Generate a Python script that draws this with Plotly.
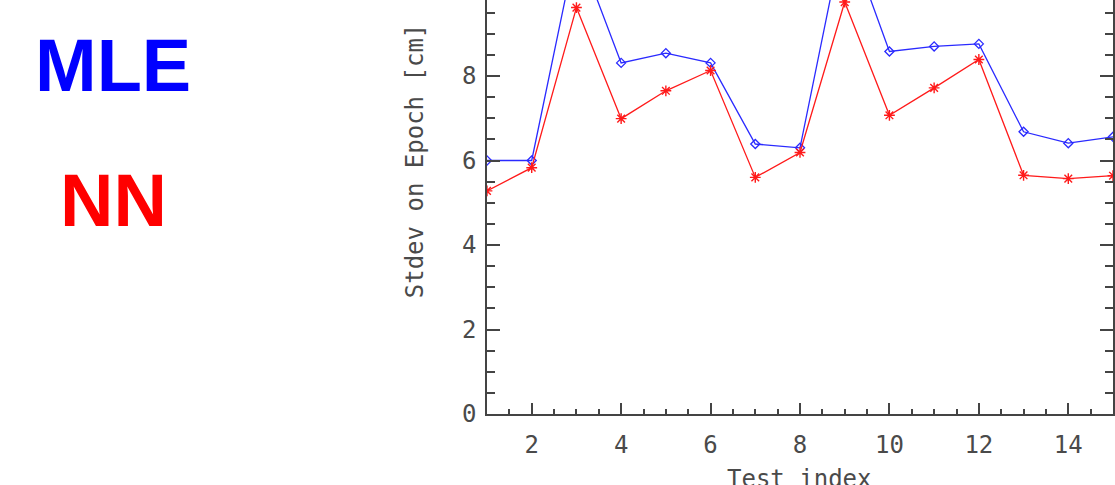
import plotly.graph_objects as go

test_index = [1, 2, 3, 4, 5, 6, 7, 8, 9, 10, 11, 12, 13, 14, 15]
mle_stdev = [6.0, 6.0, 11.1, 8.31, 8.54, 8.31, 6.39, 6.3, 11.5, 8.58, 8.70, 8.76, 6.68, 6.41, 6.56]
nn_stdev = [5.28, 5.83, 9.62, 6.99, 7.65, 8.13, 5.60, 6.19, 9.75, 7.07, 7.72, 8.39, 5.65, 5.57, 5.64]

x_ticks = [2, 4, 6, 8, 10, 12, 14]
y_ticks = [0, 2, 4, 6, 8, 10, 12]

# layout geometry (screen pixels)
SHIFT = 95          # figure is shifted up so the top of the y axis is above the window
PLOT_L, PLOT_W = 487, 628
PLOT_H = 509
BOTTOM = 71
AXIS_Y = 414        # screen y of the x axis


def px_x(sx):
    return (sx - PLOT_L) / PLOT_W


def px_y(sy):
    return (AXIS_Y - sy) / PLOT_H


fig = go.Figure()
fig.add_trace(go.Scatter(
    x=test_index, y=mle_stdev, mode="lines+markers",
    line=dict(color="#2a2aff", width=1.3),
    marker=dict(symbol="diamond-open", size=7, color="#2a2aff", line=dict(width=1.3)),
    showlegend=False,
))
fig.add_trace(go.Scatter(
    x=test_index, y=nn_stdev, mode="lines+markers",
    line=dict(color="#ff1a1a", width=1.3),
    marker=dict(symbol="asterisk-open", size=9, color="#ff1a1a", line=dict(width=1.4)),
    showlegend=False,
))

axis_font = dict(family="DejaVu Sans Mono", size=24, color="#4a4a4a")

fig.update_xaxes(
    range=[1, 15], tickvals=x_ticks, ticktext=[str(v) for v in x_ticks],
    ticks="inside", ticklen=11, tickwidth=1.5, tickcolor="#444444",
    minor=dict(ticks="inside", dtick=0.5, tick0=0, ticklen=5, tickwidth=1.5, tickcolor="#444444"),
    showline=True, linecolor="#444444", linewidth=1.5, mirror="ticks",
    showgrid=False, zeroline=False, tickfont=axis_font, ticklabelstandoff=8,
)
fig.update_yaxes(
    range=[0, 12], tickvals=y_ticks, ticktext=[str(v) for v in y_ticks],
    ticks="inside", ticklen=13, tickwidth=1.5, tickcolor="#444444",
    minor=dict(ticks="inside", dtick=0.5, tick0=0, ticklen=8, tickwidth=1.5, tickcolor="#444444"),
    showline=True, linecolor="#444444", linewidth=1.5, mirror="ticks",
    showgrid=False, zeroline=False, tickfont=axis_font, ticklabelstandoff=4,
)

fig.add_annotation(
    text="Stdev on Epoch [cm]", xref="paper", yref="paper",
    x=px_x(415), y=px_y(160), textangle=-90,
    showarrow=False, font=axis_font,
    xanchor="center", yanchor="middle",
)
fig.add_annotation(
    text="Test index", xref="paper", yref="paper",
    x=px_x(800), y=px_y(463),
    showarrow=False, font=axis_font,
    xanchor="center", yanchor="top",
)
fig.add_annotation(
    text="<b>MLE</b>", xref="paper", yref="paper",
    x=px_x(112), y=px_y(64),
    showarrow=False, font=dict(family="Liberation Sans", size=74, color="#0000ff"),
    xanchor="center", yanchor="middle",
)
fig.add_annotation(
    text="<b>NN</b>", xref="paper", yref="paper",
    x=px_x(112), y=px_y(200),
    showarrow=False, font=dict(family="Liberation Sans", size=74, color="#ff0000"),
    xanchor="center", yanchor="middle",
)

fig.update_layout(
    width=PLOT_L + PLOT_W, height=PLOT_H + BOTTOM,
    margin=dict(l=PLOT_L, r=0, t=0, b=BOTTOM),
    paper_bgcolor="white", plot_bgcolor="white",
)

post = (
    "document.body.style.margin='0';"
    "document.body.style.overflow='hidden';"
    "var gd=document.getElementById('{plot_id}');"
    "gd.style.marginTop='-%dpx';" % SHIFT
)
fig.write_html("out.html", post_script=post)
